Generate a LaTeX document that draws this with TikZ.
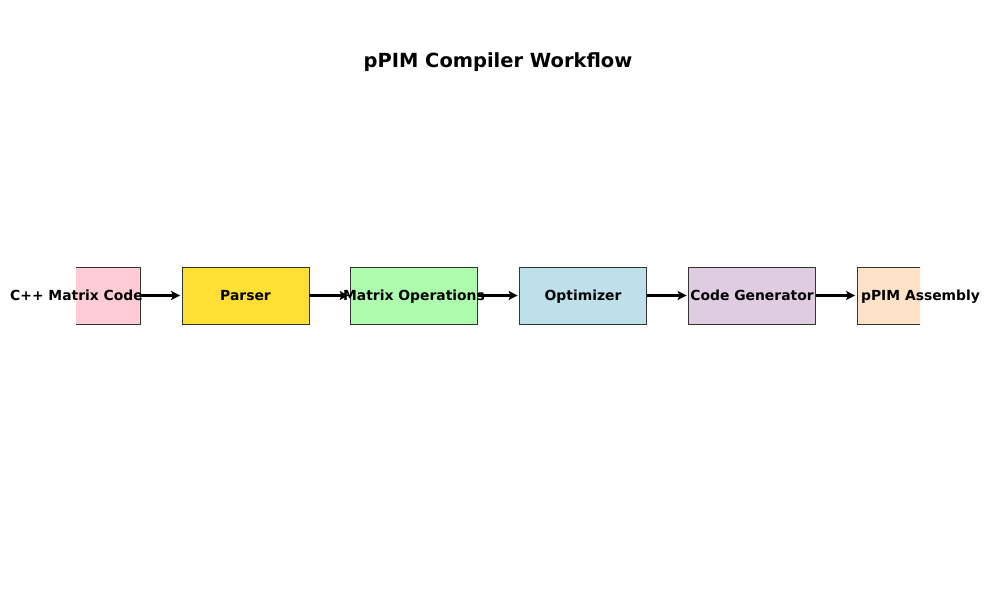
\documentclass[tikz,border=0pt]{standalone}
\usepackage{fontspec}
\setmainfont{DejaVu Sans}
\usetikzlibrary{arrows.meta}
\definecolor{cPink}{RGB}{255,204,213}
\definecolor{cGold}{RGB}{255,223,51}
\definecolor{cGreen}{RGB}{173,252,173}
\definecolor{cBlue}{RGB}{189,224,235}
\definecolor{cThistle}{RGB}{224,204,224}
\definecolor{cPeach}{RGB}{255,225,199}
\definecolor{cEdge}{RGB}{51,51,51}
\tikzset{
  stagebox/.style={draw=cEdge, line width=0.7pt, minimum width=127*0.72pt, minimum height=57*0.72pt, inner sep=0pt},
  stagelabel/.style={font=\bfseries\fontsize{10}{12}\selectfont, inner sep=0pt, text height=0.76em, text depth=0.24em},
  flowarrow/.style={-{Stealth[length=6.5pt,width=6.5pt,inset=1.5pt]}, line width=1.45pt, black, shorten >=1pt}
}
\begin{document}
\begin{tikzpicture}[x=0.72pt,y=-0.72pt]
\useasboundingbox (0,0) rectangle (990,590);
\node[font=\bfseries\fontsize{14}{17}\selectfont, text height=0.76em, text depth=0.24em, inner sep=0pt] (title) at (498,64) {pPIM Compiler Workflow};
\begin{scope}
\clip (76,0) rectangle (920,590);
\node[stagebox, fill=cPink] (b1) at (76.5,295.5) {};
\node[stagebox, fill=cGold] (b2) at (245.5,295.5) {};
\node[stagebox, fill=cGreen] (b3) at (414,295.5) {};
\node[stagebox, fill=cBlue] (b4) at (583,295.5) {};
\node[stagebox, fill=cThistle] (b5) at (752,295.5) {};
\node[stagebox, fill=cPeach] (b6) at (920.5,295.5) {};
\end{scope}
\begin{scope}[yshift=0.36pt]
\draw[flowarrow] (b1.east) -- (b2.west);
\draw[flowarrow] (b2.east) -- (b3.west);
\draw[flowarrow] (b3.east) -- (b4.west);
\draw[flowarrow] (b4.east) -- (b5.west);
\draw[flowarrow] (b5.east) -- (b6.west);
\end{scope}
\node[stagelabel] (l1) at ([yshift=-0.72pt]b1) {C++ Matrix Code};
\node[stagelabel] (l2) at ([yshift=-0.72pt]b2) {Parser};
\node[stagelabel] (l3) at ([yshift=-0.72pt]b3) {Matrix Operations};
\node[stagelabel] (l4) at ([yshift=-0.72pt]b4) {Optimizer};
\node[stagelabel] (l5) at ([yshift=-0.72pt]b5) {Code Generator};
\node[stagelabel] (l6) at ([yshift=-0.72pt]b6) {pPIM Assembly};
\end{tikzpicture}
\end{document}
